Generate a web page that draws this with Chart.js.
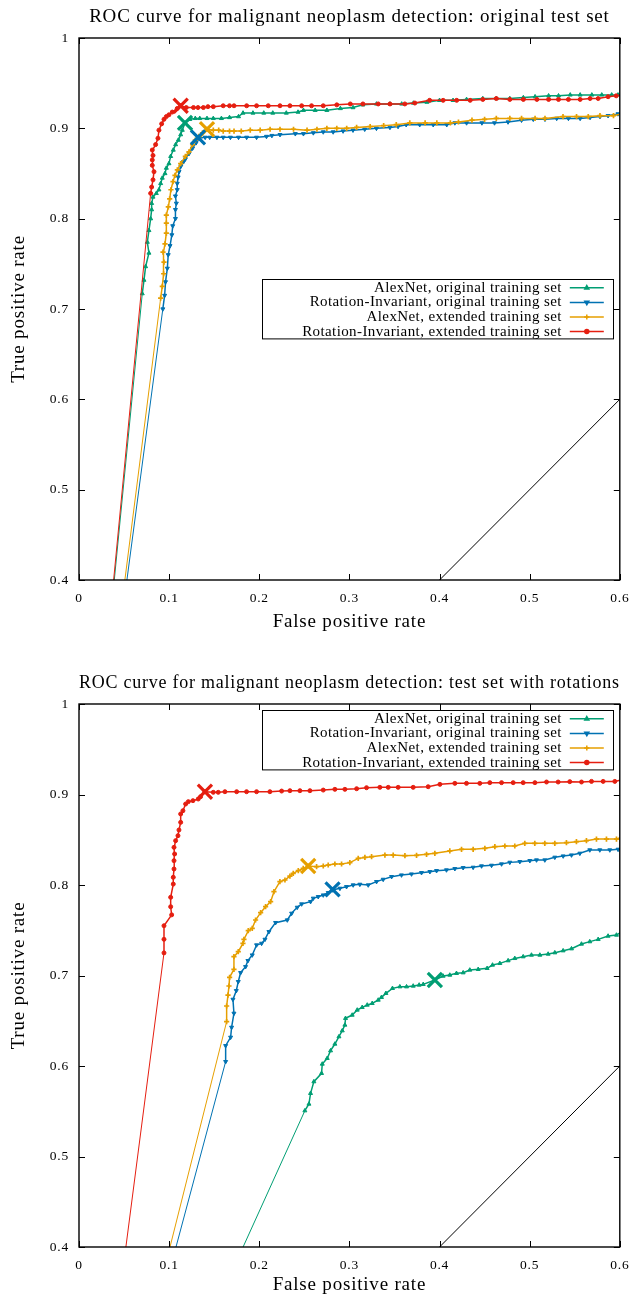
<!DOCTYPE html>
<html>
<head>
<meta charset="utf-8">
<script src="https://cdn.jsdelivr.net/npm/chart.js@4.4.1/dist/chart.umd.min.js"></script>
<style>
  body { margin: 0; background: #fff; }
  .plot { position: absolute; left: 0; width: 633px; }
</style>
</head>
<body>
<div class="plot" style="top:0"><canvas id="topChart" width="633" height="650"></canvas></div>
<div class="plot" style="top:650px"><canvas id="bottomChart" width="633" height="646"></canvas></div>
<script>
// series order: AlexNet orig, Rotation-Invariant orig, AlexNet ext, Rotation-Invariant ext
const seriesLabels = [
    "AlexNet, original training set",
    "Rotation-Invariant, original training set",
    "AlexNet, extended training set",
    "Rotation-Invariant, extended training set"
];
const xTicks = [0, 0.1, 0.2, 0.3, 0.4, 0.5, 0.6];
const yTicks = [0.4, 0.5, 0.6, 0.7, 0.8, 0.9, 1];

/* ===== original test set ===== */
const origAlexOrigFpr = [0, 0.0702, 0.0721, 0.0739, 0.0776, 0.0758, 0.0776, 0.0795, 0.0806, 0.0806, 0.0821, 0.0858, 0.0887, 0.0906, 0.0924, 0.0954, 0.0969, 0.0998, 0.1017, 0.1046, 0.1072, 0.1102, 0.1128, 0.1146, 0.1176, 0.123, 0.129, 0.134, 0.142, 0.149, 0.158, 0.167, 0.177, 0.182, 0.193, 0.205, 0.215, 0.230, 0.243, 0.249, 0.262, 0.275, 0.290, 0.304, 0.315, 0.330, 0.345, 0.358, 0.371, 0.386, 0.400, 0.415, 0.430, 0.448, 0.463, 0.478, 0.493, 0.506, 0.521, 0.532, 0.545, 0.556, 0.569, 0.580, 0.591, 0.598, 1];
const origAlexOrigTpr = [0, 0.717, 0.732, 0.747, 0.762, 0.774, 0.787, 0.800, 0.810, 0.817, 0.824, 0.828, 0.832, 0.839, 0.845, 0.850, 0.856, 0.861, 0.869, 0.876, 0.882, 0.887, 0.893, 0.898, 0.906, 0.910, 0.911, 0.911, 0.911, 0.911, 0.911, 0.912, 0.913, 0.917, 0.917, 0.917, 0.917, 0.917, 0.918, 0.920, 0.920, 0.920, 0.922, 0.923, 0.926, 0.927, 0.927, 0.927, 0.928, 0.929, 0.931, 0.931, 0.932, 0.933, 0.933, 0.933, 0.934, 0.935, 0.936, 0.936, 0.937, 0.937, 0.937, 0.937, 0.937, 0.937, 1];

const origRotOrigFpr = [0, 0.093, 0.095, 0.096, 0.098, 0.099, 0.101, 0.103, 0.104, 0.107, 0.107, 0.108, 0.107, 0.109, 0.109, 0.110, 0.111, 0.113, 0.116, 0.118, 0.122, 0.126, 0.130, 0.133, 0.140, 0.145, 0.153, 0.160, 0.168, 0.177, 0.186, 0.197, 0.208, 0.214, 0.223, 0.240, 0.249, 0.260, 0.271, 0.282, 0.293, 0.304, 0.317, 0.330, 0.345, 0.354, 0.363, 0.378, 0.393, 0.408, 0.417, 0.430, 0.447, 0.461, 0.476, 0.491, 0.504, 0.517, 0.530, 0.543, 0.556, 0.567, 0.578, 0.587, 0.598, 1];
const origRotOrigTpr = [0, 0.700, 0.715, 0.730, 0.745, 0.760, 0.770, 0.782, 0.792, 0.800, 0.810, 0.817, 0.825, 0.832, 0.839, 0.846, 0.852, 0.858, 0.863, 0.866, 0.872, 0.878, 0.884, 0.889, 0.890, 0.890, 0.890, 0.890, 0.890, 0.890, 0.890, 0.890, 0.891, 0.892, 0.893, 0.894, 0.894, 0.895, 0.896, 0.896, 0.897, 0.898, 0.899, 0.900, 0.901, 0.902, 0.904, 0.904, 0.904, 0.904, 0.906, 0.906, 0.906, 0.906, 0.907, 0.909, 0.910, 0.910, 0.911, 0.911, 0.911, 0.912, 0.913, 0.914, 0.916, 1];

const origAlexExtFpr = [0, 0.0906, 0.0924, 0.0939, 0.0943, 0.0932, 0.0954, 0.0969, 0.0969, 0.0969, 0.0991, 0.1006, 0.1020, 0.1043, 0.1065, 0.1091, 0.1128, 0.118, 0.122, 0.126, 0.129, 0.133, 0.137, 0.142, 0.149, 0.155, 0.160, 0.167, 0.172, 0.180, 0.190, 0.201, 0.212, 0.223, 0.238, 0.253, 0.264, 0.275, 0.286, 0.297, 0.308, 0.323, 0.338, 0.352, 0.367, 0.384, 0.397, 0.412, 0.421, 0.436, 0.450, 0.463, 0.478, 0.491, 0.506, 0.517, 0.537, 0.552, 0.565, 0.578, 0.593, 1];
const origAlexExtTpr = [0, 0.712, 0.725, 0.739, 0.752, 0.763, 0.772, 0.784, 0.795, 0.804, 0.813, 0.822, 0.832, 0.841, 0.848, 0.854, 0.861, 0.869, 0.874, 0.882, 0.887, 0.891, 0.895, 0.899, 0.898, 0.898, 0.897, 0.897, 0.897, 0.897, 0.898, 0.898, 0.899, 0.899, 0.899, 0.898, 0.899, 0.900, 0.900, 0.900, 0.901, 0.902, 0.903, 0.904, 0.906, 0.906, 0.906, 0.906, 0.907, 0.909, 0.910, 0.911, 0.911, 0.911, 0.911, 0.911, 0.913, 0.913, 0.913, 0.914, 0.914, 1];

const origRotExtFpr = [0, 0.0795, 0.0806, 0.0821, 0.0832, 0.0813, 0.0813, 0.0821, 0.0813, 0.085, 0.0876, 0.0887, 0.0917, 0.0943, 0.0969, 0.0998, 0.1035, 0.109, 0.1128, 0.119, 0.127, 0.132, 0.138, 0.143, 0.149, 0.160, 0.167, 0.172, 0.186, 0.197, 0.210, 0.223, 0.234, 0.247, 0.258, 0.271, 0.286, 0.301, 0.315, 0.332, 0.345, 0.3615, 0.3726, 0.389, 0.404, 0.419, 0.434, 0.448, 0.463, 0.478, 0.493, 0.508, 0.521, 0.532, 0.543, 0.556, 0.567, 0.576, 0.587, 0.596, 1];
const origRotExtTpr = [0, 0.828, 0.835, 0.843, 0.852, 0.859, 0.865, 0.870, 0.876, 0.882, 0.889, 0.898, 0.905, 0.910, 0.913, 0.915, 0.918, 0.922, 0.925, 0.923, 0.923, 0.923, 0.923, 0.924, 0.924, 0.925, 0.925, 0.925, 0.925, 0.925, 0.925, 0.925, 0.925, 0.925, 0.925, 0.925, 0.926, 0.927, 0.927, 0.927, 0.927, 0.927, 0.928, 0.931, 0.931, 0.931, 0.931, 0.932, 0.933, 0.932, 0.932, 0.932, 0.932, 0.932, 0.932, 0.932, 0.933, 0.933, 0.935, 0.936, 1];

// operating points (big crosses), same series order
const origOpFpr = [0.1176, 0.132, 0.142, 0.1128];
const origOpTpr = [0.906, 0.890, 0.899, 0.925];

/* ===== test set with rotations ===== */
const rotAlexOrigFpr = [0, 0.2506, 0.2551, 0.2569, 0.2606, 0.2691, 0.2699, 0.2754, 0.2791, 0.2839, 0.2884, 0.2921, 0.2950, 0.2957, 0.3031, 0.3087, 0.3142, 0.3198, 0.3253, 0.3320, 0.3356, 0.3405, 0.3478, 0.3560, 0.3634, 0.3708, 0.3774, 0.3819, 0.3948, 0.4040, 0.4114, 0.4188, 0.4262, 0.4336, 0.4429, 0.4528, 0.4588, 0.4669, 0.4761, 0.4835, 0.4928, 0.5020, 0.5113, 0.5205, 0.5279, 0.5371, 0.5464, 0.5575, 0.5667, 0.5760, 0.5870, 0.5963, 1];
const rotAlexOrigTpr = [0, 0.5506, 0.5580, 0.5698, 0.5827, 0.5919, 0.6022, 0.6085, 0.6169, 0.6243, 0.6324, 0.6390, 0.6453, 0.6527, 0.6563, 0.6619, 0.6648, 0.6674, 0.6692, 0.6729, 0.6759, 0.6803, 0.6858, 0.6876, 0.6876, 0.6884, 0.6895, 0.6902, 0.6950, 0.6994, 0.7005, 0.7024, 0.7031, 0.7061, 0.7068, 0.7079, 0.7116, 0.7134, 0.7164, 0.7189, 0.7208, 0.7226, 0.7226, 0.7237, 0.7252, 0.7274, 0.7296, 0.7348, 0.7374, 0.7399, 0.7436, 0.7447, 1];

const rotRotOrigFpr = [0, 0.1627, 0.1627, 0.1682, 0.1693, 0.1719, 0.1708, 0.1745, 0.1767, 0.1793, 0.1848, 0.1874, 0.1922, 0.1970, 0.2026, 0.2063, 0.2107, 0.2181, 0.2311, 0.2359, 0.2421, 0.2470, 0.2569, 0.2599, 0.2654, 0.2710, 0.2765, 0.2813, 0.2895, 0.2968, 0.3042, 0.3116, 0.3209, 0.3301, 0.3375, 0.3468, 0.3578, 0.3689, 0.3800, 0.3893, 0.3967, 0.4077, 0.4170, 0.4262, 0.4373, 0.4466, 0.4577, 0.4688, 0.4780, 0.4891, 0.5002, 0.5076, 0.5168, 0.5279, 0.5372, 0.5464, 0.5557, 0.5667, 0.5778, 0.5889, 0.5981, 1];
const rotRotOrigTpr = [0, 0.6048, 0.6224, 0.6317, 0.6427, 0.6582, 0.6736, 0.6832, 0.6932, 0.7031, 0.7097, 0.7164, 0.7226, 0.7337, 0.7355, 0.7399, 0.7484, 0.7584, 0.7613, 0.7687, 0.7753, 0.7790, 0.7816, 0.7853, 0.7871, 0.7889, 0.7915, 0.7945, 0.7963, 0.7981, 0.8000, 0.8007, 0.8000, 0.8037, 0.8062, 0.8092, 0.8110, 0.8121, 0.8136, 0.8147, 0.8158, 0.8166, 0.8180, 0.8191, 0.8195, 0.8210, 0.8217, 0.8232, 0.8250, 0.8258, 0.8269, 0.8276, 0.8276, 0.8306, 0.8320, 0.8331, 0.8350, 0.8387, 0.8387, 0.8387, 0.8394, 1];

const rotAlexExtFpr = [0, 0.1638, 0.1638, 0.1653, 0.1664, 0.1671, 0.1719, 0.1719, 0.1767, 0.1819, 0.1830, 0.1878, 0.1922, 0.1959, 0.2015, 0.2070, 0.2126, 0.2163, 0.2229, 0.2285, 0.2340, 0.2377, 0.2433, 0.2488, 0.2543, 0.2636, 0.2710, 0.2765, 0.2839, 0.2913, 0.3005, 0.3098, 0.3172, 0.3246, 0.3394, 0.3486, 0.3616, 0.3745, 0.3856, 0.3948, 0.4114, 0.4244, 0.4373, 0.4503, 0.4614, 0.4725, 0.4835, 0.4946, 0.5057, 0.5168, 0.5279, 0.5408, 0.5519, 0.5630, 0.5741, 0.5852, 0.5963, 1];
const rotAlexExtTpr = [0, 0.6490, 0.6663, 0.6784, 0.6884, 0.6980, 0.7068, 0.7208, 0.7263, 0.7355, 0.7399, 0.7495, 0.7521, 0.7613, 0.7694, 0.7760, 0.7816, 0.7926, 0.8037, 0.8055, 0.8099, 0.8129, 0.8158, 0.8184, 0.8210, 0.8202, 0.8210, 0.8221, 0.8232, 0.8232, 0.8247, 0.8294, 0.8305, 0.8313, 0.8331, 0.8331, 0.8324, 0.8328, 0.8339, 0.8350, 0.8376, 0.8394, 0.8394, 0.8405, 0.8423, 0.8431, 0.8431, 0.8460, 0.8460, 0.8460, 0.8460, 0.8468, 0.8479, 0.8490, 0.8508, 0.8508, 0.8508, 1];

const rotRotExtFpr = [0, 0.0943, 0.0943, 0.0943, 0.1028, 0.1017, 0.1017, 0.1046, 0.1046, 0.1054, 0.1054, 0.1061, 0.1054, 0.1072, 0.1098, 0.1109, 0.1128, 0.1128, 0.1153, 0.1183, 0.1213, 0.1264, 0.1323, 0.1349, 0.1397, 0.1490, 0.1545, 0.1619, 0.1749, 0.1859, 0.1970, 0.2118, 0.2248, 0.2340, 0.2451, 0.2562, 0.2710, 0.2839, 0.2950, 0.3080, 0.3190, 0.3338, 0.3431, 0.3541, 0.3708, 0.3874, 0.4004, 0.4170, 0.4299, 0.4447, 0.4558, 0.4688, 0.4817, 0.4928, 0.5058, 0.5187, 0.5316, 0.5445, 0.5575, 0.5686, 0.5815, 0.5945, 1];
const rotRotExtTpr = [0, 0.725, 0.740, 0.755, 0.767, 0.776, 0.7864, 0.801, 0.8085, 0.8177, 0.8269, 0.8343, 0.8416, 0.849, 0.8545, 0.8608, 0.8692, 0.8785, 0.8821, 0.8895, 0.8921, 0.8932, 0.895, 0.8976, 0.9031, 0.9024, 0.9024, 0.9031, 0.9031, 0.9031, 0.9031, 0.9031, 0.9038, 0.9042, 0.9042, 0.9042, 0.9049, 0.9057, 0.9057, 0.9064, 0.9075, 0.9079, 0.9079, 0.9079, 0.9079, 0.9086, 0.9112, 0.9123, 0.9123, 0.9123, 0.9131, 0.9131, 0.9131, 0.9131, 0.9131, 0.9138, 0.9138, 0.9142, 0.9138, 0.9145, 0.9145, 0.9145, 1];

const rotOpFpr = [0.3948, 0.2813, 0.2543, 0.1397];
const rotOpTpr = [0.6950, 0.7952, 0.8210, 0.9031];

// chance line
const chanceFpr = [0, 1];
const chanceTpr = [0, 1];

/* ===== styling ===== */
const FONT = '"Liberation Serif", "Times New Roman", serif';
Chart.defaults.font.family = FONT;
Chart.defaults.color = "#000";

const styles = [
    {color: "#009e73", marker: "triangle", rotation: 0, radius: 2.3, mw: 1},
    {color: "#0072b2", marker: "triangle", rotation: 180, radius: 2.3, mw: 1},
    {color: "#e69f00", marker: "cross", rotation: 0, radius: 2.6, mw: 1.7},
    {color: "#e51e10", marker: "circle", rotation: 0, radius: 2, mw: 1}
];

const fmt = v => String(Number(v.toFixed(1)));

// widen the Liberation glyphs a little, closer to the TeX look
const spacingPlugin = {
    id: "spacing",
    beforeUpdate(chart) { chart.ctx.letterSpacing = "0.8px"; },
    beforeDraw(chart) { chart.ctx.letterSpacing = "0.8px"; }
};

// frame with inward ticks on all four sides
const framePlugin = {
    id: "frame",
    afterDraw(chart) {
        const {ctx, chartArea: a, scales: {x, y}} = chart;
        ctx.save();
        ctx.strokeStyle = "#000";
        ctx.lineWidth = 1;
        ctx.beginPath();
        xTicks.forEach(v => {
            const px = Math.round(x.getPixelForValue(v)) + 0.5;
            ctx.moveTo(px, a.bottom); ctx.lineTo(px, a.bottom - 6);
            ctx.moveTo(px, a.top); ctx.lineTo(px, a.top + 6);
        });
        yTicks.forEach(v => {
            const py = Math.round(y.getPixelForValue(v)) + 0.5;
            ctx.moveTo(a.left, py); ctx.lineTo(a.left + 6, py);
            ctx.moveTo(a.right, py); ctx.lineTo(a.right - 6, py);
        });
        ctx.stroke();
        ctx.lineWidth = 1.4;
        ctx.strokeRect(a.left, a.top, a.right - a.left, a.bottom - a.top);
        ctx.restore();
    }
};

// gnuplot-like boxed key: text right-aligned, sample on the right
const keyPlugin = {
    id: "boxKey",
    afterDatasetsDraw(chart, args, opts) {
        const {ctx, chartArea: a, scales: {y}} = chart;
        const right = a.right - 7, w = 351, rowH = 14.6;
        const top = Math.round(y.getPixelForValue(opts.top)) + 0.5;
        const h = rowH * seriesLabels.length + 1;
        ctx.save();
        ctx.fillStyle = "#fff";
        ctx.fillRect(right - w, top, w, h);
        ctx.strokeStyle = "#000";
        ctx.lineWidth = 1;
        ctx.strokeRect(Math.round(right - w) + 0.5, top, w, h);
        ctx.font = "15px " + FONT;
        ctx.letterSpacing = "0.4px";
        ctx.textAlign = "right";
        ctx.textBaseline = "middle";
        seriesLabels.forEach((lab, i) => {
            const st = styles[i];
            const yy = top + 1 + rowH * (i + 0.5);
            ctx.fillStyle = "#000";
            ctx.fillText(lab, right - 51, yy);
            ctx.strokeStyle = st.color;
            ctx.fillStyle = st.color;
            ctx.lineWidth = 1.5;
            ctx.beginPath();
            ctx.moveTo(right - 43, yy); ctx.lineTo(right - 9, yy);
            ctx.stroke();
            Chart.helpers.drawPoint(ctx, {pointStyle: st.marker, rotation: st.rotation, radius: st.radius, borderWidth: st.mw}, right - 26, yy);
        });
        ctx.restore();
    }
};

function rocChart(id, cfg) {
    const datasets = [];
    cfg.fpr.forEach((xs, i) => {
        const st = styles[i];
        const last = xs.length - 1;
        datasets.push({
            label: seriesLabels[i],
            data: xs.map((x, j) => ({x, y: cfg.tpr[i][j]})),
            showLine: true,
            clip: 0,
            borderColor: st.color,
            backgroundColor: st.color,
            borderWidth: 1.5,
            pointStyle: st.marker,
            rotation: st.rotation,
            pointRadius: c => (c.dataIndex === 0 || c.dataIndex === last) ? 0 : st.radius,
            pointBorderWidth: st.mw,
            order: 4 - i,
            segment: {borderWidth: c => c.p0DataIndex === 0 ? 1 : undefined}
        });
    });
    cfg.opFpr.forEach((x, i) => {
        datasets.push({
            data: [{x, y: cfg.opTpr[i]}],
            showLine: false,
            borderColor: styles[i].color,
            backgroundColor: styles[i].color,
            pointStyle: "crossRot",
            pointRadius: 10,
            pointBorderWidth: 3.2,
            order: 0
        });
    });
    datasets.push({
        data: chanceFpr.map((x, j) => ({x, y: chanceTpr[j]})),
        showLine: true, clip: 0,
        borderColor: "#000", borderWidth: 1, pointRadius: 0, order: 5
    });

    return new Chart(document.getElementById(id), {
        type: "scatter",
        data: {datasets},
        options: {
            responsive: false,
            animation: false,
            events: [],
            layout: {padding: cfg.padding},
            plugins: {
                legend: {display: false},
                tooltip: {enabled: false},
                title: {
                    display: true,
                    fullSize: false,
                    text: cfg.title,
                    color: "#000",
                    font: {size: 19, weight: "normal"},
                    padding: cfg.titlePad
                },
                boxKey: {top: cfg.keyTop}
            },
            scales: {
                x: {
                    type: "linear", min: 0, max: 0.6,
                    grid: {display: false, drawTicks: false},
                    border: {display: false},
                    afterBuildTicks: s => { s.ticks = xTicks.map(value => ({value})); },
                    ticks: {padding: 10.5, maxRotation: 0, autoSkip: false, font: {size: 13.5}, color: "#000", callback: fmt},
                    title: {display: true, text: "False positive rate", color: "#000", font: {size: 19}, padding: {top: 0, bottom: 0}},
                    afterFit: s => { s.height = cfg.xAxisH; s.paddingRight = 0; s.paddingLeft = 0; }
                },
                y: {
                    type: "linear", min: 0.4, max: 1,
                    grid: {display: false, drawTicks: false},
                    border: {display: false},
                    afterBuildTicks: s => { s.ticks = yTicks.map(value => ({value})); },
                    ticks: {padding: 10, autoSkip: false, font: {size: 13.5}, color: "#000", callback: fmt},
                    title: {display: true, text: "True positive rate", color: "#000", font: {size: 19}, padding: {top: 8, bottom: 0}},
                    afterFit: s => { s.width = 79; }
                }
            }
        },
        plugins: [spacingPlugin, keyPlugin, framePlugin]
    });
}

rocChart("topChart", {
    title: "ROC curve for malignant neoplasm detection: original test set",
    fpr: [origAlexOrigFpr, origRotOrigFpr, origAlexExtFpr, origRotExtFpr],
    tpr: [origAlexOrigTpr, origRotOrigTpr, origAlexExtTpr, origRotExtTpr],
    opFpr: origOpFpr, opTpr: origOpTpr,
    keyTop: 0.733,
    padding: {left: 0, right: 13, top: 0, bottom: 17},
    titlePad: {top: 5.6, bottom: 9.6},
    xAxisH: 53
});

rocChart("bottomChart", {
    title: "ROC curve for malignant neoplasm detection: test set with rotations",
    fpr: [rotAlexOrigFpr, rotRotOrigFpr, rotAlexExtFpr, rotRotExtFpr],
    tpr: [rotAlexOrigTpr, rotRotOrigTpr, rotAlexExtTpr, rotRotExtTpr],
    opFpr: rotOpFpr, opTpr: rotOpTpr,
    keyTop: 0.9934,
    padding: {left: 0, right: 13, top: 0, bottom: 0},
    titlePad: {top: 21.6, bottom: 9.6},
    xAxisH: 49
});
</script>
</body>
</html>
